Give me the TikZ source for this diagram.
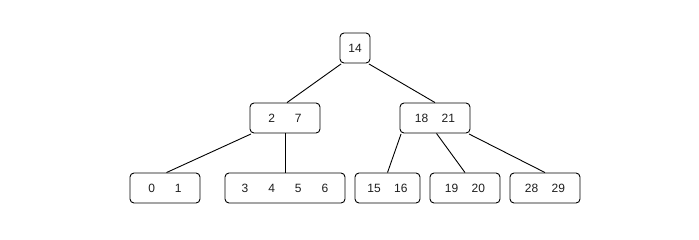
\documentclass[tikz,border=0pt]{standalone}
\usepackage{fontspec}
\setmainfont{Liberation Sans}
\usepackage{xcolor}
\usepackage{tikz}
\usetikzlibrary{positioning, arrows.meta, calc}
\definecolor{KeyText}{RGB}{30,30,30}
\newcommand{\bkey}[1]{\makebox[26.67pt]{#1}}
\tikzset{
  bnode/.style={draw=black, line width=0.9pt, rounded corners=4pt, fill=white,
    minimum height=30pt, inner sep=0pt, text=KeyText,
    font=\fontsize{12}{14}\selectfont},
  blink/.style={draw=black, line width=0.9pt},
}

\begin{document}
\begin{tikzpicture}[x=1pt, y=-1pt]
  \useasboundingbox (0,0) rectangle (699,239);
  % root
  \node[bnode, minimum width=30pt] (root) at (355,48) {14};
  % inner level
  \node[bnode, minimum width=70pt] (n27) at (285,118) {\bkey{2}\bkey{7}};
  \node[bnode, minimum width=70pt] (n1821) at (435,118) {\bkey{18}\bkey{21}};
  % leaves
  \node[bnode, minimum width=70pt] (l01) at (165,188) {\bkey{0}\bkey{1}};
  \node[bnode, minimum width=120pt] (l3456) at (285,188) {\bkey{3}\bkey{4}\bkey{5}\bkey{6}};
  \node[bnode, minimum width=65pt] (l1516) at (387.5,188) {\bkey{15}\bkey{16}};
  \node[bnode, minimum width=70pt] (l1920) at (465,188) {\bkey{19}\bkey{20}};
  \node[bnode, minimum width=70pt] (l2829) at (545,188) {\bkey{28}\bkey{29}};
  % links
  \draw[blink] ([xshift=1.5pt,yshift=-0.5pt]root.south west) -- ([xshift=2pt]n27.north);
  \draw[blink] ([xshift=-1.5pt,yshift=-0.5pt]root.south east) -- (n1821.north);
  \draw[blink] ([xshift=1.5pt,yshift=-0.5pt]n27.south west) -- ([xshift=1.5pt]l01.north);
  \draw[blink] (n27.south) -- (l3456.north);
  \draw[blink] ([xshift=1.5pt,yshift=-0.5pt]n1821.south west) -- (l1516.north);
  \draw[blink] ([xshift=1.5pt]n1821.south) -- (l1920.north);
  \draw[blink] ([xshift=-1.5pt,yshift=-0.5pt]n1821.south east) -- (l2829.north);
\end{tikzpicture}
\end{document}
